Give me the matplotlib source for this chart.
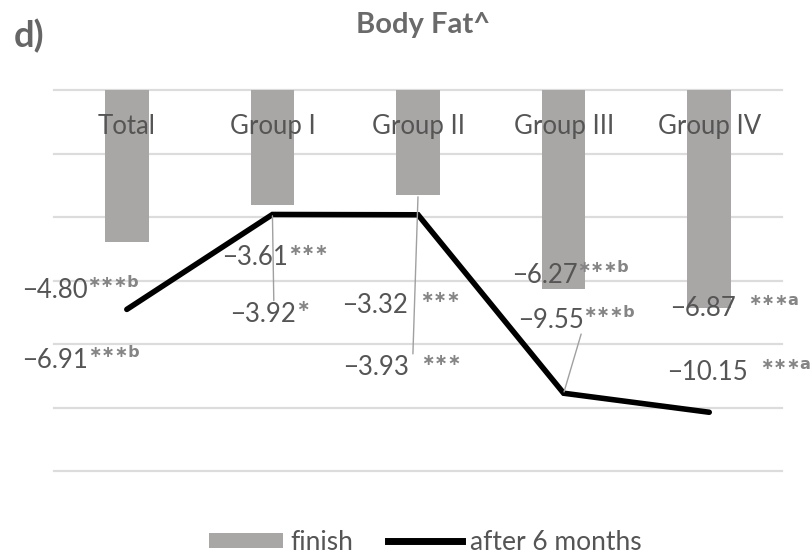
import matplotlib
matplotlib.use("Agg")
import matplotlib.pyplot as plt
from matplotlib.patches import Patch
from matplotlib.lines import Line2D

plt.rcParams['font.family'] = ['Lato', 'DejaVu Sans']

groups = ["Total", "Group I", "Group II", "Group III", "Group IV"]
finish = [-4.80, -3.61, -3.32, -6.27, -6.87]
after6 = [-6.91, -3.92, -3.93, -9.55, -10.15]
finish_sig = ["\u2217\u2217\u2217b", "\u2217\u2217\u2217", "\u2217\u2217\u2217",
              "\u2217\u2217\u2217b", "\u2217\u2217\u2217a"]
after6_sig = ["\u2217\u2217\u2217b", "\u2217", "\u2217\u2217\u2217",
              "\u2217\u2217\u2217b", "\u2217\u2217\u2217a"]

# label offsets in pixels (left edge of number, vertical centre) from the point
finish_off = [(-105, -48), (-50, -53), (-76, -110), (-52, 14), (-39, 0)]
after6_off = [(-105, -51), (-42, -100), (-75, -153), (-46, 73), (-42, 40)]
finish_gap = [0, 0, 12, 0, 12]
after6_gap = [0, 0, 12, 0, 12]

TXT = '#555555'
SUP = '#858585'
BAR = '#a9a6a6'
LEAD = '#a0a0a0'

fig = plt.figure(figsize=(8.11, 5.57), dpi=100)
ax = fig.add_axes([0.0666, 0.1544, 0.8977, 0.684])

x = list(range(len(groups)))
ax.bar(x, finish, width=0.3, color=BAR, zorder=2)
ax.plot(x, after6, color='black', linewidth=4, solid_capstyle='round',
        solid_joinstyle='miter', zorder=3)

ax.set_xlim(-0.5, len(groups) - 0.5)
ax.set_ylim(-12, 0)
ax.set_yticks(range(-12, 1, 2))
ax.yaxis.grid(True, color='#dcdcdc', linewidth=1.6)
ax.set_axisbelow(True)
for s in ax.spines.values():
    s.set_visible(False)
ax.tick_params(left=False, bottom=False, labelleft=False, labelbottom=False)
for gl in ax.get_ygridlines():
    gl.set_clip_on(False)

# category names sit inside the top of the plot
for i, g in enumerate(groups):
    ax.text(i, 0.903, g, transform=ax.get_xaxis_transform(), ha='center',
            va='center', fontsize=18.5, color=TXT, zorder=4)


def value_label(i, v, off, sig, gap):
    num = ax.annotate(f"\u2212{abs(v):.2f}", xy=(i, v), xytext=off,
                      textcoords='offset pixels', ha='left', va='center',
                      fontsize=18.5, color=TXT, zorder=5, annotation_clip=False)
    ax.annotate(sig, xy=(1, 0.8), xycoords=num, xytext=(gap, 0),
                textcoords='offset pixels', ha='left', va='center',
                fontsize=11.5, fontweight='bold', family='DejaVu Sans',
                color=SUP, zorder=5, annotation_clip=False)
    return num


def leader(xy, label, relpos):
    ax.annotate("", xy=xy, xytext=relpos, textcoords=label,
                arrowprops=dict(arrowstyle='-', color=LEAD, lw=1,
                                shrinkA=1, shrinkB=1),
                annotation_clip=False, zorder=4)


fin_txt = []
aft_txt = []
for i in x:
    fin_txt.append(value_label(i, finish[i], finish_off[i], finish_sig[i], finish_gap[i]))
    aft_txt.append(value_label(i, after6[i], after6_off[i], after6_sig[i], after6_gap[i]))

# leader lines from the marks down to their labels
leader((1, after6[1]), aft_txt[1], (0.66, 1.0))
leader((2, finish[2]), aft_txt[2], (1.06, 1.0))
leader((3, after6[3]), aft_txt[3], (0.97, 0.0))

fig.text(423 / 811, 1 - 25 / 557, "Body Fat^", ha='center', va='center',
         fontsize=21, fontweight='bold', color='#6a6a6a')
fig.text(14 / 811, 1 - 36 / 557, "d)", ha='left', va='center',
         fontsize=26, fontweight='bold', color='#666666')

handles = [Patch(facecolor=BAR, edgecolor='none', label='finish'),
           Line2D([], [], color='black', linewidth=5, label='after 6 months')]
fig.legend(handles=handles, loc='center', bbox_to_anchor=(425 / 811, 1 - 542 / 557),
           ncol=2, frameon=False, fontsize=19, labelcolor=TXT, handlelength=2.8,
           handleheight=0.5, handletextpad=0.3, columnspacing=1.3)

fig.savefig("out.png", dpi=100)
